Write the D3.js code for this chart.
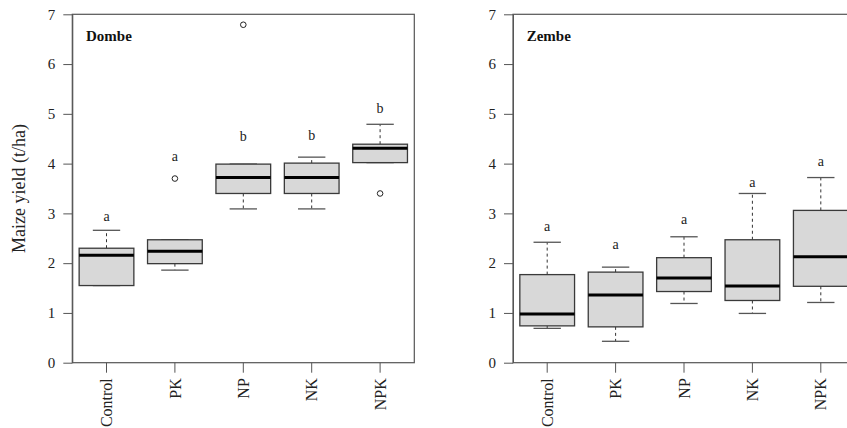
<!DOCTYPE html>
<html>
<head>
<meta charset="utf-8">
<script src="https://cdn.jsdelivr.net/npm/d3@7/dist/d3.min.js"></script>
<style>
  html, body { margin: 0; padding: 0; background: #fff; }
  svg { display: block; }
  text { font-family: "Liberation Serif", "Times New Roman", serif; fill: #222; }
</style>
</head>
<body>
<svg id="chart" width="847" height="428"></svg>
<script>
// Fertiliser treatments
const categories = ["Control", "PK", "NP", "NK", "NPK"];
const yTicks = [0, 1, 2, 3, 4, 5, 6, 7];

// Dombe: five-number summaries (whisker ends, quartiles, median) and outliers, t/ha
const dombeLow    = [1.55, 1.86, 3.09, 3.09, 4.02];
const dombeQ1     = [1.55, 1.99, 3.40, 3.40, 4.02];
const dombeMedian = [2.16, 2.24, 3.72, 3.72, 4.31];
const dombeQ3     = [2.30, 2.47, 3.99, 4.01, 4.39];
const dombeHigh   = [2.66, 2.47, 3.99, 4.13, 4.79];
const dombeOutliers = [[], [3.70], [6.79], [], [3.40]];
const dombeLetters  = ["a", "a", "b", "b", "b"];
const dombeLetterAt = [2.84, 4.05, 4.45, 4.48, 5.01];

// Zembe
const zembeLow    = [0.69, 0.43, 1.19, 0.99, 1.21];
const zembeQ1     = [0.74, 0.72, 1.43, 1.25, 1.535];
const zembeMedian = [0.98, 1.36, 1.70, 1.54, 2.13];
const zembeQ3     = [1.77, 1.82, 2.11, 2.47, 3.06];
const zembeHigh   = [2.42, 1.92, 2.53, 3.40, 3.72];
const zembeOutliers = [[], [], [], [], []];
const zembeLetters  = ["a", "a", "a", "a", "a"];
const zembeLetterAt = [2.64, 2.28, 2.79, 3.53, 3.95];

const svg = d3.select("#chart");
const plotTop = 14.3, plotBottom = 362.7, panelW = 342;
const frameColor = "#555";

function panel(left, site, low, q1, med, q3, high, outliers, letters, letterAt, withTitle) {
  const x = d3.scaleBand().domain(categories)
    .range([left, left + panelW]).paddingInner(0.2).paddingOuter(0.1);
  const y = d3.scaleLinear().domain([0, 7]).range([plotBottom, plotTop]);
  const g = svg.append("g");

  // y axis
  const ya = g.append("g").attr("transform", `translate(${left},0)`)
    .call(d3.axisLeft(y).tickValues(yTicks).tickFormat(d3.format("d"))
      .tickSize(9).tickSizeOuter(0).tickPadding(8));
  ya.selectAll("line, path").attr("stroke", frameColor);
  ya.selectAll("text").attr("font-size", 15).style("fill", "#222");

  // x axis
  const xa = g.append("g").attr("transform", `translate(0,${plotBottom})`)
    .call(d3.axisBottom(x).tickSize(10).tickSizeOuter(0));
  xa.select("path").remove();
  xa.selectAll("line").attr("stroke", frameColor);
  xa.selectAll("text")
    .attr("font-size", 16).style("fill", "#222")
    .attr("transform", "rotate(-90)")
    .attr("x", -15.5).attr("y", 0).attr("dy", "0.35em")
    .attr("text-anchor", "end");

  // plot frame
  g.append("rect").attr("x", left).attr("y", plotTop)
    .attr("width", panelW).attr("height", plotBottom - plotTop)
    .attr("fill", "none").attr("stroke", frameColor).attr("stroke-width", 1.2);

  const bw = x.bandwidth();
  const rows = categories.map((c, i) => ({
    c, low: low[i], q1: q1[i], med: med[i], q3: q3[i], high: high[i],
    out: outliers[i], letter: letters[i], lab: letterAt[i]
  }));
  const cx = d => x(d.c) + bw / 2;

  const b = g.selectAll("g.box").data(rows).join("g").attr("class", "box");

  // dashed whiskers
  b.append("line").attr("x1", cx).attr("x2", cx)
    .attr("y1", d => y(d.q3)).attr("y2", d => y(d.high))
    .attr("stroke", "#333").attr("stroke-dasharray", "3,3");
  b.append("line").attr("x1", cx).attr("x2", cx)
    .attr("y1", d => y(d.q1)).attr("y2", d => y(d.low))
    .attr("stroke", "#333").attr("stroke-dasharray", "3,3");

  // staples
  [d => d.high, d => d.low].forEach(f => {
    b.append("line")
      .attr("x1", d => cx(d) - bw / 4).attr("x2", d => cx(d) + bw / 4)
      .attr("y1", d => y(f(d))).attr("y2", d => y(f(d)))
      .attr("stroke", "#555").attr("stroke-width", 1.3);
  });

  // boxes
  b.append("rect").attr("x", d => x(d.c)).attr("width", bw)
    .attr("y", d => y(d.q3)).attr("height", d => y(d.q1) - y(d.q3))
    .attr("fill", "#d8d8d8").attr("stroke", "#3a3a3a").attr("stroke-width", 1.3);

  // medians
  b.append("line").attr("x1", d => x(d.c)).attr("x2", d => x(d.c) + bw)
    .attr("y1", d => y(d.med)).attr("y2", d => y(d.med))
    .attr("stroke", "#000").attr("stroke-width", 3);

  // outliers
  b.selectAll("circle").data(d => d.out.map(v => ({ c: d.c, v })))
    .join("circle").attr("cx", cx).attr("cy", d => y(d.v)).attr("r", 2.8)
    .attr("fill", "none").attr("stroke", "#222").attr("stroke-width", 1);

  // significance letters
  b.append("text").attr("x", cx).attr("y", d => y(d.lab))
    .attr("text-anchor", "middle").attr("font-size", 14)
    .text(d => d.letter);

  // site name
  g.append("text").attr("x", left + 13.7).attr("y", plotTop + 26.4)
    .attr("font-size", 15).attr("font-weight", "bold").style("fill", "#111")
    .text(site);

  if (withTitle) {
    g.append("text")
      .attr("transform", `translate(19,${(plotTop + plotBottom) / 2}) rotate(-90)`)
      .attr("text-anchor", "middle").attr("dy", "0.35em")
      .attr("font-size", 18).text("Maize yield (t/ha)");
  }
}

panel(72.3, "Dombe", dombeLow, dombeQ1, dombeMedian, dombeQ3, dombeHigh,
      dombeOutliers, dombeLetters, dombeLetterAt, true);
panel(513, "Zembe", zembeLow, zembeQ1, zembeMedian, zembeQ3, zembeHigh,
      zembeOutliers, zembeLetters, zembeLetterAt, false);
</script>
</body>
</html>
